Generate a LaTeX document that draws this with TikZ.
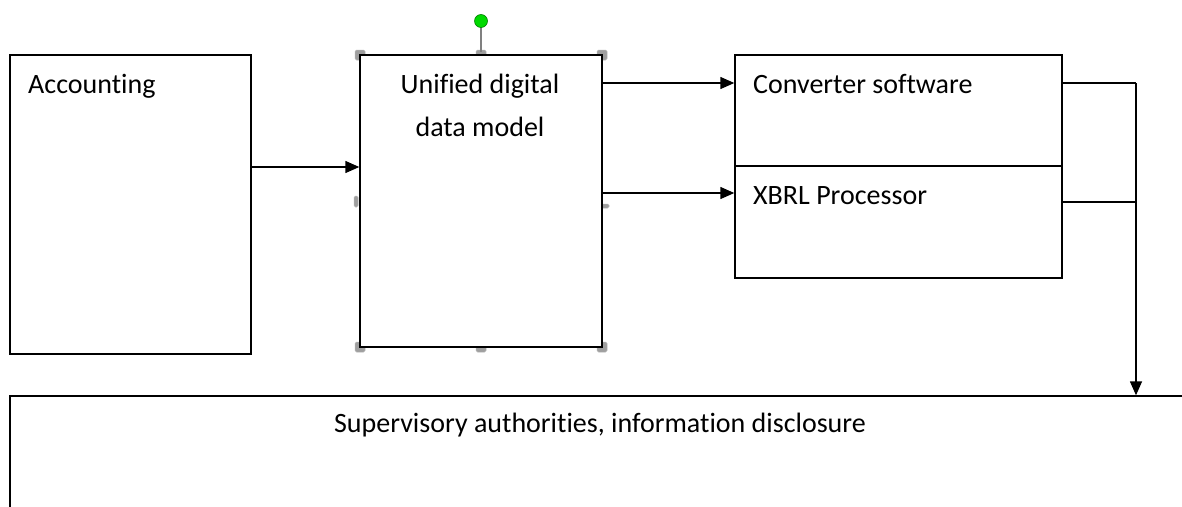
\documentclass[tikz,border=0pt]{standalone}
\usepackage{fontspec}
\setmainfont[Ligatures=NoCommon,RawFeature={-liga}]{Carlito}
\usetikzlibrary{arrows.meta}
\begin{document}
\begin{tikzpicture}[x=1pt,y=-1pt,
  box/.style={draw=black,line width=1.4pt,fill=white,minimum width=#1,inner sep=0pt,rectangle},
  lbl/.style={font=\fontsize{28}{43}\selectfont,inner sep=0pt},
  arr/.style={line width=1.4pt,-{Triangle[length=14pt,width=12pt]}},
  conn/.style={line width=1.4pt},
  handle/.style={fill=gray!75,draw=gray!60,line width=0.5pt,rounded corners=1.5pt}]
\useasboundingbox (0,0) rectangle (1182,506);
\clip (0,0) rectangle (1182,506);
% selection handles (behind)
\fill[handle] (355,50) rectangle (365,60);
\fill[handle] (597,50) rectangle (607,60);
\fill[handle] (355,342) rectangle (365,352);
\fill[handle] (597,342) rectangle (607,352);
\fill[handle] (476,50) rectangle (486,58);
\fill[handle] (476,344) rectangle (486,352);
\fill[handle] (354,196) rectangle (358,207);
\fill[handle] (600,204) rectangle (609,208);
\draw[gray,line width=1.2pt] (481,27) -- (481,52);
\draw[fill=green!85!black,draw=green!50!black,line width=0.6pt] (481,21) circle (6.5);
% boxes
\node[box=241pt,minimum height=299pt] (acc) at (130.5,204.5) {};
\node[box=242pt,minimum height=292pt] (uni) at (481,201) {};
\node[box=327pt,minimum height=111pt] (conv) at (898.5,110.5) {};
\node[box=327pt,minimum height=112pt] (xbrl) at (898.5,222) {};
\node[box=1200pt,minimum height=140pt] (sup) at (610,466) {};
% texts
\node[lbl,anchor=base west] (tacc) at (28,93) {Accounting};
\node[lbl,anchor=base] (tuni1) at (480,93) {Unified digital};
\node[lbl,anchor=base] (tuni2) at (480,136) {data model};
\node[lbl,anchor=base west] (tconv) at (753,93) {Converter software};
\node[lbl,anchor=base west] (txbrl) at (753,204) {XBRL Processor};
\node[lbl,anchor=base] (tsup) at (600,432) {Supervisory authorities, information disclosure};
% connectors
\coordinate (cr) at (1136,83);
\coordinate (xr) at (1137,202);
\draw[arr] (acc.east |- 0,167) -- (uni.west |- 0,167);
\draw[arr] (uni.east |- 0,83) -- (conv.west |- 0,83);
\draw[arr] (uni.east |- 0,193) -- (xbrl.west |- 0,193);
\draw[conn] (conv.east |- cr) -- (cr);
\draw[conn] (xbrl.east |- xr) -- (xr);
\draw[arr] (cr) -- (cr |- sup.north);
\end{tikzpicture}
\end{document}
